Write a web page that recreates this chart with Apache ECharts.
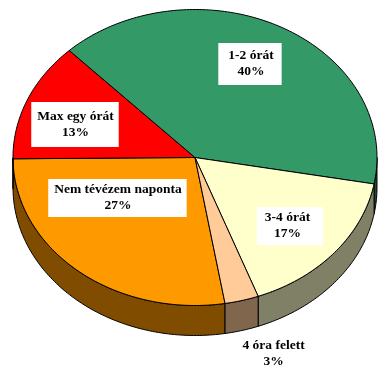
<!DOCTYPE html>
<html><head><meta charset="utf-8">
<script src="https://cdn.jsdelivr.net/npm/echarts@6/dist/echarts.min.js"></script>
<style>html,body{margin:0;padding:0;background:#fff}#c{width:385px;height:375px}</style>
</head><body><div id="c"></div>
<script>
// ---- data ----
const categories = ['Nem tévézem naponta', 'Max egy órát', '1-2 órát', '3-4 órát', '4 óra felett'];
const values = [27.5, 13, 40, 16.5, 3];
const percentLabels = ['27%', '13%', '40%', '17%', '3%'];

// ---- styles / layout ----
const topColors = ['#FF9900', '#FF0000', '#339966', '#FFFFCC', '#FFCC99'];
const sideColors = ['#804D00', '#800000', '#1A4D33', '#808066', '#80664D'];
const labelOffsets = [[2, -36.6], [-6, 6.2], [-3.7, -4.9], [0.2, 3.8], [46.7, 98.7]];
const labelPadding = [[0, 5, 6, 6], [10, 5, 3, 6], [7, 8, 3, 10], [0, 13, 6, 8], [0, 0, 0, 0]];
const labelBoxed = [true, true, true, true, false];
const startAngle = 80.5; // degrees, clockwise on screen
const geo = { cx: 195, cy: 157.5, rx: 182, ry: 148, depth: 30, labelR: 0.68 };

const total = values.reduce((a, b) => a + b, 0);
let acc = startAngle;
const seriesData = values.map((v, i) => {
  const a1 = acc; const a2 = acc + v / total * 360; acc = a2;
  return { value: [v, a1, a2, i], name: categories[i] };
});

function pt(tDeg, dy) {
  const t = tDeg * Math.PI / 180;
  return [geo.cx + geo.rx * Math.cos(t), geo.cy + geo.ry * Math.sin(t) + (dy || 0)];
}
function arc(a1, a2, dy) {
  const pts = []; const n = Math.max(2, Math.ceil((a2 - a1) / 1));
  for (let k = 0; k <= n; k++) pts.push(pt(a1 + (a2 - a1) * k / n, dy));
  return pts;
}

function renderItem(params, api) {
  const a1 = api.value(1), a2 = api.value(2), i = api.value(3);
  const children = [];
  // side wall: visible where the arc lies in [0,180] (mod 360)
  for (let base = 0; base <= 720; base += 360) {
    const s = Math.max(a1, base), e = Math.min(a2, base + 180);
    if (e > s) {
      const top = arc(s, e, 0); const bot = arc(s, e, geo.depth).reverse();
      children.push({ type: 'polygon', shape: { points: top.concat(bot) },
        style: { fill: sideColors[i], stroke: '#000', lineWidth: 1 } });
    }
  }
  // top face
  const face = [[geo.cx, geo.cy]].concat(arc(a1, a2, 0));
  children.push({ type: 'polygon', shape: { points: face },
    style: { fill: topColors[i], stroke: '#000', lineWidth: 1 } });
  // label
  const m = (a1 + a2) / 2 * Math.PI / 180;
  const lx = geo.cx + geo.labelR * geo.rx * Math.cos(m) + labelOffsets[i][0];
  const ly = geo.cy + geo.labelR * geo.ry * Math.sin(m) + labelOffsets[i][1];
  children.push({ type: 'text', z2: 10, x: lx, y: ly,
    style: { text: categories[i] + '\n' + percentLabels[i], fill: '#000',
      font: 'bold 13.5px "Liberation Serif", "Times New Roman", serif', lineHeight: 16,
      align: 'center', verticalAlign: 'middle',
      backgroundColor: labelBoxed[i] ? '#fff' : 'transparent', padding: labelPadding[i] } });
  return { type: 'group', children };
}

const chart = echarts.init(document.getElementById('c'), null, { renderer: 'canvas' });
chart.setOption({
  animation: false,
  series: [{ type: 'custom', coordinateSystem: 'none', renderItem, data: seriesData }]
});
</script></body></html>
